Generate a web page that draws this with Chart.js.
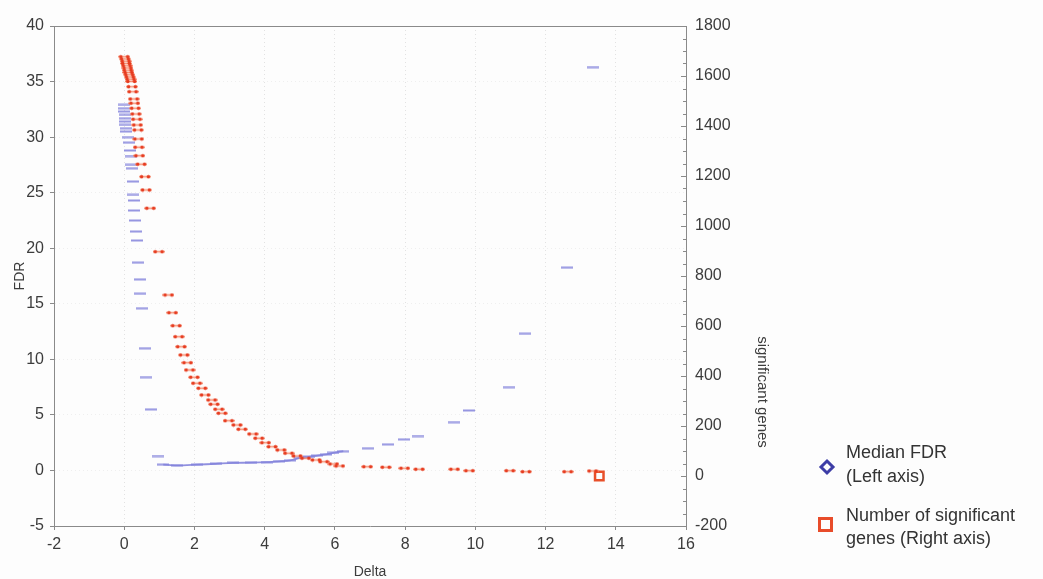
<!DOCTYPE html>
<html>
<head>
<meta charset="utf-8">
<script src="https://cdn.jsdelivr.net/npm/chart.js@4/dist/chart.umd.min.js"></script>
<style>
  html, body { margin: 0; padding: 0; background: #fdfdfd; }
  #wrap { width: 1043px; height: 579px; }
</style>
</head>
<body>
<div id="wrap"><canvas id="c" width="1043" height="579"></canvas></div>
<script>
// Median FDR (left axis): isolated estimates
const fdrDelta = [0.00, 0.00, 0.00, 0.02, 0.02, 0.03, 0.03, 0.05, 0.05,
  0.12, 0.14, 0.16, 0.18, 0.20, 0.21, 0.24, 0.26, 0.27, 0.29, 0.31, 0.33, 0.35, 0.40,
  0.46, 0.46, 0.51, 0.60, 0.63, 0.77, 0.97,
  6.95, 7.52, 7.97, 8.37, 9.40, 9.82, 10.97, 11.42, 12.62, 13.35];
const fdrValue = [32.9, 32.6, 32.3, 32.0, 31.7, 31.4, 31.1, 30.8, 30.5,
  30.0, 29.5, 28.8, 28.3, 27.5, 27.2, 26.0, 24.8, 24.3, 23.4, 22.5, 21.5, 20.7, 18.7,
  17.2, 15.9, 14.6, 11.0, 8.4, 5.5, 1.3,
  2.0, 2.35, 2.8, 3.1, 4.35, 5.4, 7.5, 12.3, 18.25, 36.3];

// Median FDR (left axis): densely sampled run between delta 1 and 6
const fdrRunDelta = [1.11, 1.50, 2.08, 2.60, 3.10, 3.60, 4.07, 4.40, 4.73, 5.01, 5.25, 5.50, 5.75, 5.95, 6.24];
const fdrRunValue = [0.52, 0.45, 0.52, 0.60, 0.68, 0.70, 0.75, 0.82, 0.91, 1.13, 1.22, 1.34, 1.45, 1.58, 1.73];

// Number of significant genes (right axis)
const genesDelta = [0.00, 0.02, 0.04, 0.05, 0.07, 0.09, 0.10, 0.12, 0.14, 0.16, 0.18, 0.20,
  0.22, 0.24, 0.27, 0.29, 0.31, 0.33, 0.35, 0.37, 0.39, 0.40, 0.41, 0.43, 0.48, 0.59, 0.62, 0.74, 0.98,
  1.26, 1.37, 1.48, 1.55, 1.62, 1.70, 1.80, 1.86, 1.99, 2.06, 2.21, 2.30, 2.49, 2.56, 2.69, 2.78,
  2.97, 3.21, 3.35, 3.66, 3.83, 4.02, 4.21, 4.46, 4.68, 4.92, 5.16, 5.46, 5.68, 5.96, 6.13,
  6.92, 7.45, 7.98, 8.40, 9.40, 9.83, 10.98, 11.44, 12.63, 13.34];
const genesCount = [1677, 1668, 1659, 1650, 1641, 1632, 1623, 1614, 1605, 1596, 1587, 1578,
  1557, 1537, 1508, 1491, 1471, 1448, 1427, 1404, 1384, 1348, 1315, 1281, 1247, 1197, 1144, 1071, 897,
  724, 653, 601, 557, 517, 484, 453, 424, 395, 371, 351, 324, 304, 287, 267, 251,
  221, 204, 187, 168, 151, 133, 117, 104, 91, 80, 71, 64, 57, 48, 40,
  37, 35, 31, 27, 27, 21, 21, 17, 17, 20];

// Last evaluated delta, drawn with the open square marker
const finalDelta = [13.53];
const finalCount = [0];

// Axis ticks
const deltaTicks = [-2, 0, 2, 4, 6, 8, 10, 12, 14, 16];
const fdrTicks = [-5, 0, 5, 10, 15, 20, 25, 30, 35, 40];
const genesTicks = [-200, 0, 200, 400, 600, 800, 1000, 1200, 1400, 1600, 1800];

const pts = (xs, ys) => xs.map((x, i) => ({ x, y: ys[i] }));

// Small dash glyphs used as point markers
function glyph(w, h, paint) {
  const c = document.createElement('canvas');
  c.width = w; c.height = h;
  paint(c.getContext('2d'));
  return c;
}
const redDash = glyph(12, 5, g => {
  g.strokeStyle = 'rgba(246,140,110,0.95)';
  g.lineWidth = 1.6;
  g.beginPath(); g.moveTo(0, 2.5); g.lineTo(12, 2.5); g.stroke();
  g.fillStyle = '#e63b1f';
  [2.6, 9.4].forEach(x => { g.beginPath(); g.arc(x, 2.5, 1.8, 0, Math.PI * 2); g.fill(); });
});
const blueDash = glyph(12, 3, g => {
  g.fillStyle = 'rgba(132,132,220,0.85)';
  g.fillRect(0, 0.5, 12, 2);
});

const FONT = "'Liberation Sans', Arial, sans-serif";
const AXIS = '#8a8a8a';
const TEXT = '#3c3c3c';

const fixedTicks = arr => scale => { scale.ticks = arr.map(v => ({ value: v })); };
const plainLabel = v => String(v);

// Frame top edge, inner ticks on the right axis, right axis title and the legend block
const extras = {
  id: 'extras',
  afterDraw(chart) {
    const { ctx, chartArea: a, scales } = chart;
    ctx.save();
    ctx.strokeStyle = AXIS;
    ctx.lineWidth = 1;
    ctx.beginPath();
    ctx.moveTo(a.left, a.top + 0.5);
    ctx.lineTo(a.right, a.top + 0.5);
    ctx.stroke();

    const r = scales.y2;
    for (let v = r.min; v <= r.max; v += 50) {
      const py = Math.round(r.getPixelForValue(v)) + 0.5;
      const len = v % 200 === 0 ? 5 : 3;
      ctx.beginPath();
      ctx.moveTo(a.right - len, py);
      ctx.lineTo(a.right + 1, py);
      ctx.stroke();
    }

    // right axis title, reading top to bottom
    ctx.save();
    ctx.translate(762, 392);
    ctx.rotate(Math.PI / 2);
    ctx.fillStyle = TEXT;
    ctx.font = '15px ' + FONT;
    ctx.textAlign = 'center';
    ctx.textBaseline = 'middle';
    ctx.fillText('significant genes', 0, 0);
    ctx.restore();

    // legend
    const lx = 846;
    ctx.fillStyle = '#333';
    ctx.font = '18px ' + FONT;
    ctx.textBaseline = 'middle';
    ctx.textAlign = 'left';
    ctx.fillText('Median FDR', lx, 453);
    ctx.fillText('(Left axis)', lx, 477);
    ctx.fillText('Number of significant', lx, 516);
    ctx.fillText('genes (Right axis)', lx, 539);

    ctx.strokeStyle = '#3d3da6';
    ctx.lineWidth = 3;
    ctx.beginPath();
    ctx.moveTo(827, 461); ctx.lineTo(833, 467); ctx.lineTo(827, 473); ctx.lineTo(821, 467);
    ctx.closePath();
    ctx.stroke();

    ctx.strokeStyle = '#e84c2a';
    ctx.lineWidth = 3;
    ctx.strokeRect(819.5, 518.5, 12, 12);
    ctx.restore();
  }
};

new Chart(document.getElementById('c'), {
  type: 'scatter',
  data: {
    datasets: [
      {
        label: 'Number of significant genes (Right axis)',
        data: pts(genesDelta, genesCount),
        yAxisID: 'y2',
        pointStyle: redDash,
        pointRadius: 6,
        showLine: false
      },
      {
        label: 'Final delta',
        data: pts(finalDelta, finalCount),
        yAxisID: 'y2',
        pointStyle: 'rect',
        pointRadius: 6,
        borderColor: '#e8502a',
        backgroundColor: 'rgba(0,0,0,0)',
        borderWidth: 2.5,
        showLine: false
      },
      {
        label: 'Median FDR (Left axis)',
        data: pts(fdrDelta, fdrValue),
        yAxisID: 'y',
        pointStyle: blueDash,
        pointRadius: 6,
        showLine: false
      },
      {
        label: 'Median FDR run',
        data: pts(fdrRunDelta, fdrRunValue),
        yAxisID: 'y',
        pointStyle: blueDash,
        pointRadius: 6,
        showLine: true,
        borderColor: 'rgba(132,132,220,0.9)',
        borderWidth: 1.8,
        tension: 0.3
      }
    ]
  },
  options: {
    responsive: false,
    animation: false,
    events: [],
    layout: { padding: { top: 26, left: 0, right: 0, bottom: 0 } },
    plugins: { legend: { display: false }, tooltip: { enabled: false } },
    scales: {
      x: {
        type: 'linear',
        min: -2, max: 16,
        afterBuildTicks: fixedTicks(deltaTicks),
        afterFit: s => { s.height = 53; },
        grid: { color: '#e2e2e2', drawTicks: true, tickLength: 4, tickColor: AXIS },
        border: { color: AXIS, width: 1, dash: [1, 3] },
        ticks: { font: { family: FONT, size: 16 }, color: TEXT, padding: 5, maxRotation: 0, callback: plainLabel },
        title: { display: true, text: 'Delta', font: { family: FONT, size: 14, lineHeight: 1 }, color: TEXT, padding: { top: 0, bottom: 0 } }
      },
      y: {
        type: 'linear',
        position: 'left',
        min: -5, max: 40,
        afterBuildTicks: fixedTicks(fdrTicks),
        afterFit: s => { s.width = 54; },
        grid: { color: '#efefef', drawTicks: true, tickLength: 4, tickColor: AXIS },
        border: { color: AXIS, width: 1, dash: [1, 3] },
        ticks: { font: { family: FONT, size: 16 }, color: TEXT, padding: 6, callback: plainLabel },
        title: { display: true, text: 'FDR', font: { family: FONT, size: 14, lineHeight: 1 }, color: TEXT, padding: { top: 13, bottom: 0 } }
      },
      y2: {
        type: 'linear',
        position: 'right',
        min: -200, max: 1800,
        afterBuildTicks: fixedTicks(genesTicks),
        afterFit: s => { s.width = 357; },
        grid: { drawOnChartArea: false, drawTicks: false },
        border: { color: AXIS, width: 1 },
        ticks: { font: { family: FONT, size: 16 }, color: TEXT, padding: 9, callback: plainLabel },
        title: { display: false }
      }
    }
  },
  plugins: [extras]
});
</script>
</body>
</html>
